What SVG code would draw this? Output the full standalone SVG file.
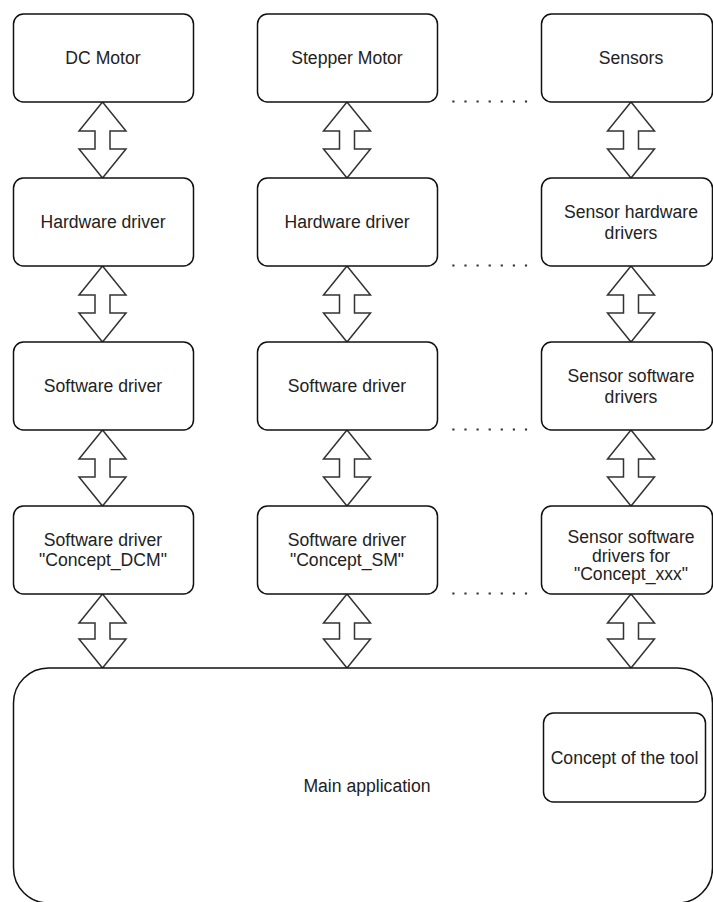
<svg xmlns="http://www.w3.org/2000/svg" width="713" height="902" viewBox="0 0 713 902">
<defs>
<style>
.box{fill:#fff;stroke:#111;stroke-width:1.5}
.arr{fill:#fff;stroke:#333;stroke-width:1.5;stroke-linejoin:miter}
.dots{stroke:#333;stroke-width:2.2;stroke-dasharray:2.2 9.9;fill:none}
text{font-family:"Liberation Sans",Arial,sans-serif;font-size:17.6px;fill:#222;text-anchor:middle}
</style>
</defs>
<rect width="713" height="902" fill="#fff"/>
<g id="connectors">
<path class="arr" d="M102.5,102 L126,131 L110,131 L110,149 L126,149 L102.5,178 L79,149 L95,149 L95,131 L79,131 Z"/>
<path class="arr" d="M102.5,266 L126,295 L110,295 L110,313 L126,313 L102.5,342 L79,313 L95,313 L95,295 L79,295 Z"/>
<path class="arr" d="M102.5,430 L126,459 L110,459 L110,477 L126,477 L102.5,506 L79,477 L95,477 L95,459 L79,459 Z"/>
<path class="arr" d="M102.5,594 L126,623 L110,623 L110,639 L126,639 L102.5,668 L79,639 L95,639 L95,623 L79,623 Z"/>
<path class="arr" d="M347,102 L370.5,131 L354.5,131 L354.5,149 L370.5,149 L347,178 L323.5,149 L339.5,149 L339.5,131 L323.5,131 Z"/>
<path class="arr" d="M347,266 L370.5,295 L354.5,295 L354.5,313 L370.5,313 L347,342 L323.5,313 L339.5,313 L339.5,295 L323.5,295 Z"/>
<path class="arr" d="M347,430 L370.5,459 L354.5,459 L354.5,477 L370.5,477 L347,506 L323.5,477 L339.5,477 L339.5,459 L323.5,459 Z"/>
<path class="arr" d="M347,594 L370.5,623 L354.5,623 L354.5,639 L370.5,639 L347,668 L323.5,639 L339.5,639 L339.5,623 L323.5,623 Z"/>
<path class="arr" d="M631,102 L654.5,131 L638.5,131 L638.5,149 L654.5,149 L631,178 L607.5,149 L623.5,149 L623.5,131 L607.5,131 Z"/>
<path class="arr" d="M631,266 L654.5,295 L638.5,295 L638.5,313 L654.5,313 L631,342 L607.5,313 L623.5,313 L623.5,295 L607.5,295 Z"/>
<path class="arr" d="M631,430 L654.5,459 L638.5,459 L638.5,477 L654.5,477 L631,506 L607.5,477 L623.5,477 L623.5,459 L607.5,459 Z"/>
<path class="arr" d="M631,594 L654.5,623 L638.5,623 L638.5,639 L654.5,639 L631,668 L607.5,639 L623.5,639 L623.5,623 L607.5,623 Z"/>
<line class="dots" x1="452.3" y1="101.5" x2="529" y2="101.5"/>
<line class="dots" x1="452.3" y1="265.5" x2="529" y2="265.5"/>
<line class="dots" x1="452.3" y1="429.5" x2="529" y2="429.5"/>
<line class="dots" x1="452.3" y1="593.5" x2="529" y2="593.5"/>
</g>
<g id="dc-motor"><rect class="box" x="13.5" y="14" width="180" height="88" rx="10"/><text x="103" y="64.3">DC Motor</text></g>
<g id="stepper-motor"><rect class="box" x="257.5" y="14" width="180" height="88" rx="10"/><text x="347" y="64.3">Stepper Motor</text></g>
<g id="sensors"><rect class="box" x="541.5" y="14" width="171" height="88" rx="10"/><text x="631" y="64.3">Sensors</text></g>
<g id="hw-driver-dc"><rect class="box" x="13.5" y="178" width="180" height="88" rx="10"/><text x="103" y="228.3">Hardware driver</text></g>
<g id="hw-driver-sm"><rect class="box" x="257.5" y="178" width="180" height="88" rx="10"/><text x="347" y="228.3">Hardware driver</text></g>
<g id="sensor-hw-drivers"><rect class="box" x="541.5" y="178" width="171" height="88" rx="10"/><text x="631" y="218">Sensor hardware</text><text x="631" y="238.5">drivers</text></g>
<g id="sw-driver-dc"><rect class="box" x="13.5" y="342" width="180" height="88" rx="10"/><text x="103" y="392.3">Software driver</text></g>
<g id="sw-driver-sm"><rect class="box" x="257.5" y="342" width="180" height="88" rx="10"/><text x="347" y="392.3">Software driver</text></g>
<g id="sensor-sw-drivers"><rect class="box" x="541.5" y="342" width="171" height="88" rx="10"/><text x="631" y="382">Sensor software</text><text x="631" y="402.5">drivers</text></g>
<g id="sw-driver-concept-dcm"><rect class="box" x="13.5" y="506" width="180" height="88" rx="10"/><text x="103" y="545.5">Software driver</text><text x="103" y="566">"Concept_DCM"</text></g>
<g id="sw-driver-concept-sm"><rect class="box" x="257.5" y="506" width="180" height="88" rx="10"/><text x="347" y="545.5">Software driver</text><text x="347" y="566">"Concept_SM"</text></g>
<g id="sensor-sw-drivers-concept"><rect class="box" x="541.5" y="506" width="171" height="88" rx="10"/><text x="631" y="543">Sensor software</text><text x="631" y="561.5">drivers for</text><text x="631" y="580">"Concept_xxx"</text></g>
<g id="main-application"><rect class="box" x="13.5" y="668" width="699" height="235" rx="35"/><text x="367" y="792">Main application</text></g>
<g id="concept-of-the-tool"><rect class="box" x="543.5" y="713" width="162" height="89" rx="10"/><text x="624.5" y="763.5">Concept of the tool</text></g>
</svg>
